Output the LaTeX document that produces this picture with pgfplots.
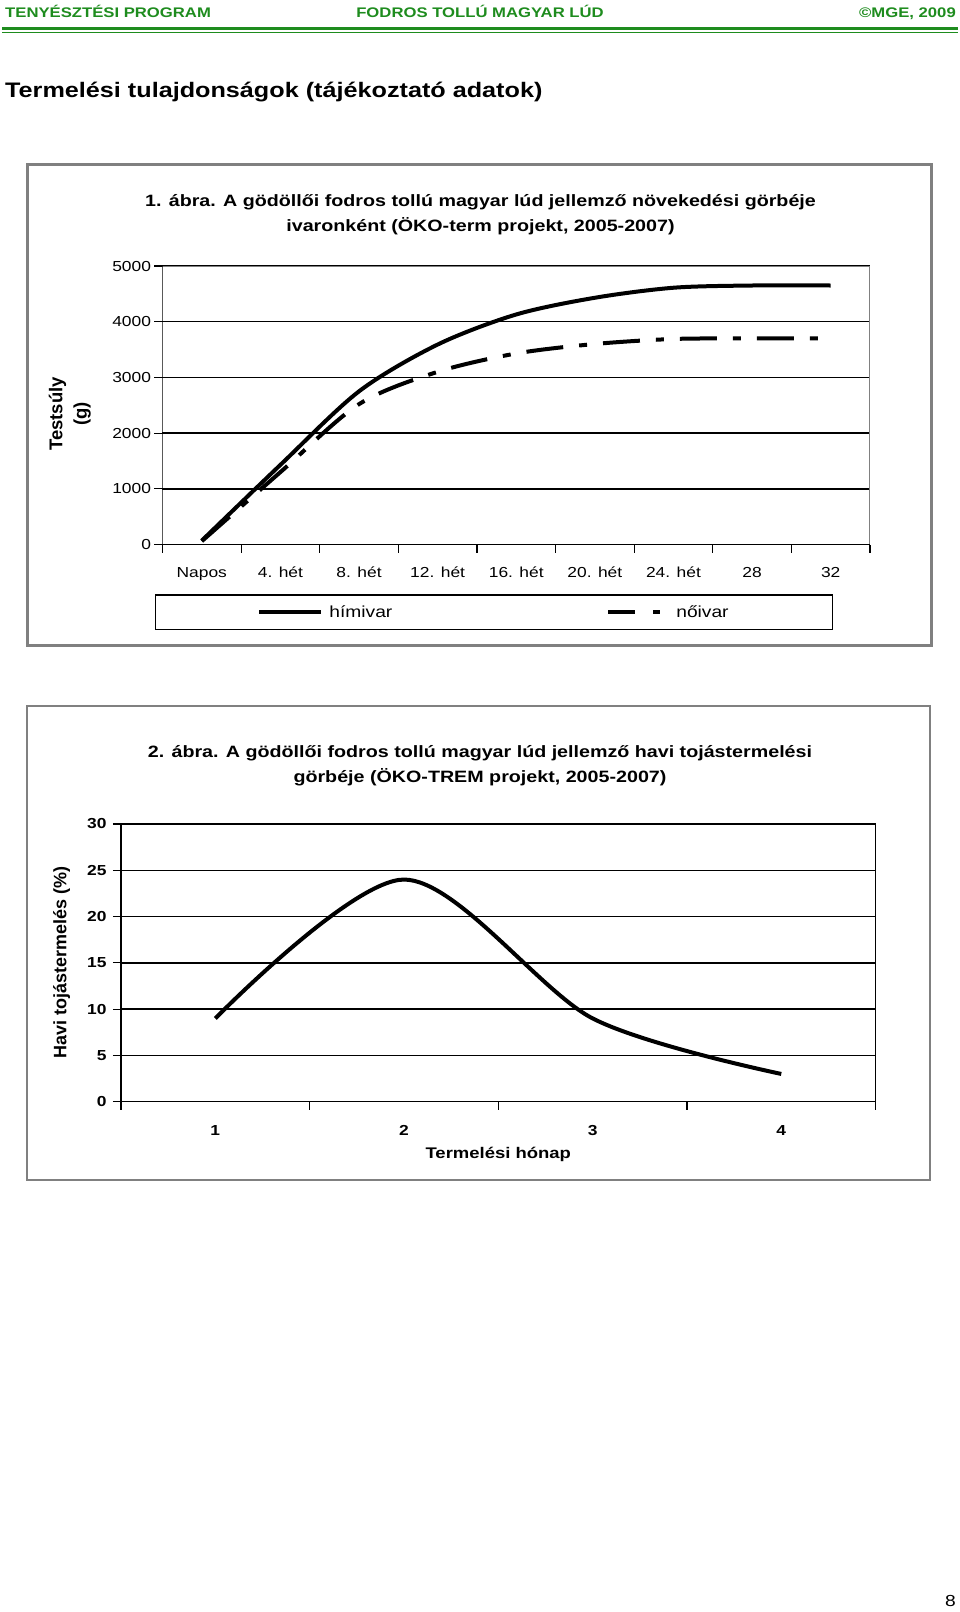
\documentclass[border=0pt]{standalone}
\usepackage{fontspec}
\setmainfont{Liberation Sans}[FakeStretch=1.2]
\newfontfamily\plainsans{Liberation Sans}
\usepackage{pgfplots}
\pgfplotsset{compat=1.18}

\definecolor{hdrgreen}{RGB}{30,140,30}
\newcommand{\lab}{\fontsize{14.5}{17}\selectfont}

\begin{document}
\begin{tikzpicture}
\path[use as bounding box, fill=white] (0pt,0pt) rectangle (960pt,-1612pt);

% page header
\node[anchor=base west, inner sep=0pt, text=hdrgreen, font=\bfseries\fontsize{13.9}{16}\selectfont] at (5pt,-17pt) {TENYÉSZTÉSI PROGRAM};
\node[anchor=base, inner sep=0pt, text=hdrgreen, font=\bfseries\fontsize{13.9}{16}\selectfont] at (480pt,-17pt) {FODROS TOLLÚ MAGYAR LÚD};
\node[anchor=base east, inner sep=0pt, text=hdrgreen, font=\bfseries\fontsize{13.9}{16}\selectfont] at (956pt,-17pt) {©MGE, 2009};
\draw[hdrgreen, line width=3pt] (2pt,-28.5pt) -- (958pt,-28.5pt);
\draw[hdrgreen, line width=1pt] (2pt,-32pt) -- (958pt,-32pt);
\node[anchor=base west, inner sep=0pt, font=\bfseries\fontsize{21}{24}\selectfont] at (5pt,-97pt) {Termelési tulajdonságok (tájékoztató adatok)};

% chart 1
\draw[gray, line width=2.5pt] (27.3pt,-164.7pt) rectangle (931.7pt,-645.5pt);
\node[anchor=base, inner sep=0pt, font=\bfseries\fontsize{16.4}{19}\selectfont] at (480.5pt,-206pt) {1. ábra. A gödöllői fodros tollú magyar lúd jellemző növekedési görbéje};
\node[anchor=base, inner sep=0pt, font=\bfseries\fontsize{16.4}{19}\selectfont] at (480.5pt,-231pt) {ivaronként (ÖKO-term projekt, 2005-2007)};

\begin{axis}[
  at={(162.5pt,-544.5pt)}, anchor=south west,
  scale only axis, width=707.5pt, height=278.5pt,
  xmin=-0.5, xmax=8.5, ymin=0, ymax=5000,
  xtick={0,...,8},
  xticklabels={Napos,4. hét,8. hét,12. hét,16. hét,20. hét,24. hét,28,32},
  minor xtick={-0.5,0.5,...,8.5},
  ytick={0,1000,...,5000},
  scaled y ticks=false,
  tick align=outside, tick pos=left,
  major tick length=8pt, minor tick length=8pt,
  major x tick style={draw=none},
  every tick/.style={black, line width=1.2pt},
  ymajorgrids, grid style={black, line width=1.5pt},
  axis line style={draw=none},
  /pgf/number format/assume math mode=true,
  /pgf/number format/1000 sep={},
  yticklabel style={font=\lab, anchor=east},
  xticklabel style={font=\lab, anchor=base, yshift=-24.5pt},
  ylabel={Testsúly\\(g)},
  ylabel style={at={(axis description cs:-0.131,0.4686)}, anchor=center, align=center,
    font=\plainsans\bfseries\fontsize{18.5}{24.5}\selectfont},
  legend columns=2,
  legend cell align=left,
  legend style={at={(axis description cs:0.4686,-0.2433)}, anchor=center,
    draw=black, line width=1.5pt, inner xsep=102pt, inner ysep=8.5pt,
    font=\fontsize{16}{18}\selectfont,
    /tikz/every even column/.append style={column sep=212pt}},
]
\addplot[black, line width=4pt, smooth,
  legend image code/.code={\draw[line width=4pt] (0pt,0pt) -- (62pt,0pt); \path (66pt,0pt);}]
  coordinates {(0,70) (1,1430) (2,2750) (3,3590) (4,4130) (5,4430) (6,4610) (7,4650) (8,4650)};
\addlegendentry{hímivar}
\addplot[black, line width=4pt, smooth, dash pattern=on 37pt off 16pt on 8pt off 16pt,
  legend image code/.code={\draw[line width=4pt, dash pattern=on 27pt off 18pt on 7pt off 100pt] (0pt,0pt) -- (52pt,0pt); \path (64pt,0pt);}]
  coordinates {(0,60) (1,1300) (2,2520) (3,3100) (4,3430) (5,3600) (6,3690) (7,3700) (8,3700)};
\addlegendentry{nőivar}
\draw[gray, line width=2pt] (rel axis cs:0,1) -- (rel axis cs:1,1) -- (rel axis cs:1,0);
\draw[black, line width=1.5pt] (rel axis cs:0,1) -- (rel axis cs:0,0) -- (rel axis cs:1,0);
\end{axis}

% chart 2
\draw[gray, line width=2.5pt] (27pt,-706pt) rectangle (930pt,-1180pt);
\node[anchor=base, inner sep=0pt, font=\bfseries\fontsize{16.4}{19}\selectfont] at (480pt,-757pt) {2. ábra. A gödöllői fodros tollú magyar lúd jellemző havi tojástermelési};
\node[anchor=base, inner sep=0pt, font=\bfseries\fontsize{16.4}{19}\selectfont] at (480pt,-782pt) {görbéje (ÖKO-TREM projekt, 2005-2007)};

\begin{axis}[
  at={(121pt,-1101.7pt)}, anchor=south west,
  scale only axis, width=754.6pt, height=277.7pt,
  xmin=0.5, xmax=4.5, ymin=0, ymax=30,
  xtick={1,...,4},
  minor xtick={0.5,1.5,...,4.5},
  ytick={0,5,...,30},
  tick align=outside, tick pos=left,
  major tick length=8pt, minor tick length=8pt,
  major x tick style={draw=none},
  every tick/.style={black, line width=1.2pt},
  ymajorgrids, grid style={black, line width=1.5pt},
  axis line style={black, line width=1.5pt},
  /pgf/number format/assume math mode=true,
  yticklabel style={font=\lab\bfseries, anchor=east, xshift=-3pt},
  xticklabel style={font=\lab\bfseries, anchor=base, yshift=-25.5pt},
  xlabel={Termelési hónap},
  xlabel style={at={(axis description cs:0.5,0)}, anchor=base, yshift=-56.5pt,
    font=\bfseries\fontsize{15.4}{18}\selectfont},
  ylabel={Havi tojástermelés (\%)},
  ylabel style={at={(axis description cs:-0.0786,0.5)}, anchor=center,
    font=\plainsans\bfseries\fontsize{18}{22}\selectfont},
]
\addplot[black, line width=4pt, smooth] coordinates {(1,9) (2,24) (3,9) (4,3)};
\end{axis}

\node[anchor=base east, inner sep=0pt, font=\fontsize{16}{18}\selectfont] at (956pt,-1606pt) {8};
\end{tikzpicture}
\end{document}
